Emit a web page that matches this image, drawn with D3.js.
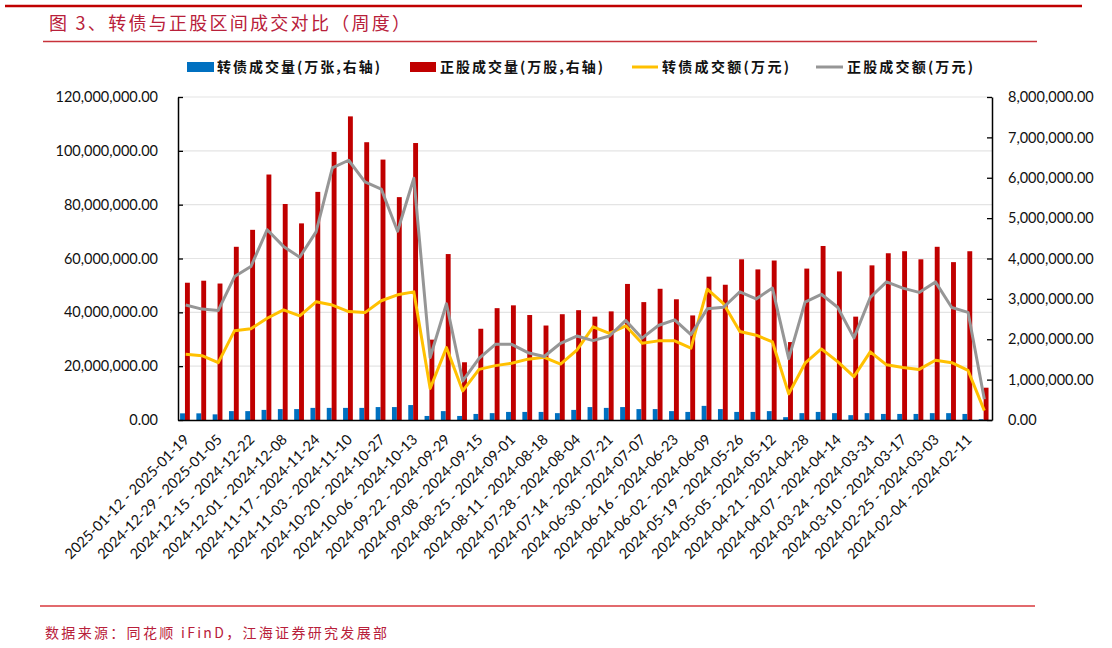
<!DOCTYPE html>
<html><head><meta charset="utf-8">
<script src="https://cdn.jsdelivr.net/npm/d3@7"></script>
<style>body{margin:0;background:#fff}svg{display:block}</style>
</head><body>
<svg id="c" width="1112" height="648"></svg>
<script>
const categories = [
"2025-01-12 - 2025-01-19","2025-01-05 - 2025-01-12","2024-12-29 - 2025-01-05","2024-12-22 - 2024-12-29",
"2024-12-15 - 2024-12-22","2024-12-08 - 2024-12-15","2024-12-01 - 2024-12-08","2024-11-24 - 2024-12-01",
"2024-11-17 - 2024-11-24","2024-11-10 - 2024-11-17","2024-11-03 - 2024-11-10","2024-10-27 - 2024-11-03",
"2024-10-20 - 2024-10-27","2024-10-13 - 2024-10-20","2024-10-06 - 2024-10-13","2024-09-29 - 2024-10-06",
"2024-09-22 - 2024-09-29","2024-09-15 - 2024-09-22","2024-09-08 - 2024-09-15","2024-09-01 - 2024-09-08",
"2024-08-25 - 2024-09-01","2024-08-18 - 2024-08-25","2024-08-11 - 2024-08-18","2024-08-04 - 2024-08-11",
"2024-07-28 - 2024-08-04","2024-07-21 - 2024-07-28","2024-07-14 - 2024-07-21","2024-07-07 - 2024-07-14",
"2024-06-30 - 2024-07-07","2024-06-23 - 2024-06-30","2024-06-16 - 2024-06-23","2024-06-09 - 2024-06-16",
"2024-06-02 - 2024-06-09","2024-05-26 - 2024-06-02","2024-05-19 - 2024-05-26","2024-05-12 - 2024-05-19",
"2024-05-05 - 2024-05-12","2024-04-28 - 2024-05-05","2024-04-21 - 2024-04-28","2024-04-14 - 2024-04-21",
"2024-04-07 - 2024-04-14","2024-03-31 - 2024-04-07","2024-03-24 - 2024-03-31","2024-03-17 - 2024-03-24",
"2024-03-10 - 2024-03-17","2024-03-03 - 2024-03-10","2024-02-25 - 2024-03-03","2024-02-18 - 2024-02-25",
"2024-02-04 - 2024-02-11","2024-01-28 - 2024-02-04"];

// 转债成交量(万张, 右轴)
const cbVolume = [165000,165000,140000,220000,220000,250000,270000,270000,300000,300000,300000,300000,320000,320000,370000,100000,220000,100000,150000,170000,200000,200000,200000,170000,250000,320000,300000,320000,270000,270000,220000,200000,350000,270000,200000,200000,220000,70000,170000,200000,170000,120000,170000,150000,150000,150000,170000,170000,150000,20000];
// 正股成交量(万股, 右轴)
const stockVolume = [3400000,3450000,3380000,4290000,4710000,6080000,5350000,4870000,5650000,6640000,7520000,6880000,6450000,5520000,6860000,1990000,4110000,1430000,2260000,2770000,2840000,2600000,2340000,2620000,2720000,2560000,2690000,3370000,2920000,3250000,2990000,2590000,3550000,3350000,3980000,3730000,3950000,1930000,3750000,4310000,3680000,2560000,3830000,4130000,4180000,3980000,4290000,3910000,4180000,800000];
// 转债成交额(万元, 左轴)
const cbAmount = [24400000,23900000,21300000,33200000,33900000,37800000,40900000,38700000,43900000,42700000,40300000,39900000,44300000,46500000,47600000,11700000,26900000,10800000,18800000,20200000,21100000,22600000,23300000,20800000,26000000,34600000,32200000,35000000,28500000,29400000,29400000,26700000,48600000,43200000,32900000,31500000,29000000,9700000,21100000,26400000,21700000,16100000,25300000,20500000,19500000,18800000,22200000,21300000,18400000,3500000];
// 正股成交额(万元, 左轴)
const stockAmount = [42700000,41200000,40700000,53300000,57000000,70700000,64500000,60500000,69900000,93700000,96500000,88500000,85800000,70100000,89800000,23200000,43200000,14500000,22900000,28100000,28100000,25000000,23600000,28500000,31200000,29500000,31200000,37000000,30400000,35100000,37200000,31700000,41300000,41900000,47600000,45000000,49000000,22800000,43800000,46700000,41900000,30500000,45500000,51300000,49000000,47400000,51300000,41800000,40000000,7700000];

const leftTicks = [0,20000000,40000000,60000000,80000000,100000000,120000000];
const rightTicks = [0,1000000,2000000,3000000,4000000,5000000,6000000,7000000,8000000];
const legendLabels = ["转债成交量(万张,右轴)","正股成交量(万股,右轴)","转债成交额(万元)","正股成交额(万元)"];
const titleText = "图 3、转债与正股区间成交对比（周度）";
const sourceText = "数据来源：同花顺 iFinD，江海证券研究发展部";

const svg = d3.select("#c");
const L = 178, R = 992, T = 97, B = 420;
const C = {blue:"#0070C0", red:"#C00000", yellow:"#FFC000", gray:"#969696", crimson:"#B8203A"};
const cjk = "'Noto Sans CJK SC','Noto Sans',sans-serif";
const num = "Lato,'Open Sans',sans-serif";

// header / footer
svg.append("line").attr("x1",5).attr("x2",1082).attr("y1",6).attr("y2",6).attr("stroke","#C00000").attr("stroke-width",2.5);
svg.append("text").attr("x",49).attr("y",30).text(titleText)
  .attr("font-family",cjk).attr("font-size",18).attr("fill",C.crimson)
  .attr("textLength",361).attr("lengthAdjust","spacing");
svg.append("line").attr("x1",43).attr("x2",1037).attr("y1",41.5).attr("y2",41.5).attr("stroke","#C8323A").attr("stroke-width",1.3);
svg.append("line").attr("x1",40).attr("x2",1035).attr("y1",606).attr("y2",606).attr("stroke","#D8383C").attr("stroke-width",1.3);
svg.append("text").attr("x",45).attr("y",638).text(sourceText)
  .attr("font-family",cjk).attr("font-size",14).attr("fill",C.crimson)
  .attr("textLength",342).attr("lengthAdjust","spacing");

// scales
const x = d3.scaleBand().domain(categories).range([L,R]).paddingInner(0.4).paddingOuter(0.17);
const yL = d3.scaleLinear().domain([0,120000000]).range([B,T]);
const yR = d3.scaleLinear().domain([0,8000000]).range([B,T]);
const bw = x.bandwidth()/2;
const cx = d => x(d) + x.bandwidth()/2;

// gridlines
svg.append("g").selectAll("line").data(leftTicks.slice(1)).join("line")
  .attr("x1",L).attr("x2",R).attr("y1",d=>yL(d)).attr("y2",d=>yL(d))
  .attr("stroke","#E4E4E4").attr("stroke-width",1.2);

// bars
svg.append("g").selectAll("rect").data(categories).join("rect")
  .attr("x",d=>x(d)-0.7).attr("width",bw)
  .attr("y",(d,i)=>yR(cbVolume[i])).attr("height",(d,i)=>B-yR(cbVolume[i]))
  .attr("fill",C.blue);
svg.append("g").selectAll("rect").data(categories).join("rect")
  .attr("x",d=>x(d)+bw-0.7).attr("width",bw)
  .attr("y",(d,i)=>yR(stockVolume[i])).attr("height",(d,i)=>B-yR(stockVolume[i]))
  .attr("fill",C.red);

// lines
const line = arr => d3.line().x((d,i)=>cx(categories[i])).y(d=>yL(d))(arr);
svg.append("path").attr("d",line(cbAmount)).attr("fill","none").attr("stroke",C.yellow).attr("stroke-width",3).attr("stroke-linejoin","round");
svg.append("path").attr("d",line(stockAmount)).attr("fill","none").attr("stroke",C.gray).attr("stroke-width",3).attr("stroke-linejoin","round");

// axes
const fmt = d3.format(",.2f");
const gl = svg.append("g").attr("transform",`translate(${L},0)`)
  .call(d3.axisLeft(yL).tickValues(leftTicks).tickFormat(fmt).tickSizeInner(-5).tickSizeOuter(0).tickPadding(20));
const gr = svg.append("g").attr("transform",`translate(${R},0)`)
  .call(d3.axisRight(yR).tickValues(rightTicks).tickFormat(fmt).tickSizeInner(-5).tickSizeOuter(0).tickPadding(16));
[gl,gr].forEach(g=>{
  g.select(".domain").attr("stroke","#000").attr("stroke-width",1.5);
  g.selectAll(".tick line").attr("stroke","#000").attr("stroke-width",1.3);
  g.selectAll(".tick text").attr("font-family",num).attr("font-size",14.5).attr("fill","#111");
});
const gx = svg.append("g").attr("transform",`translate(0,${B})`)
  .call(d3.axisBottom(x).tickValues(categories.filter((d,i)=>i%2===0)).tickSize(0).tickPadding(0));
gx.select(".domain").attr("stroke","#000").attr("stroke-width",1.5);
gx.selectAll(".tick text")
  .attr("font-family",num).attr("font-size",14.5).attr("fill","#111")
  .attr("text-anchor","end").attr("dy","0.35em")
  .attr("transform","translate(1,17) rotate(-45)");

// legend
const lg = svg.append("g").attr("font-family",cjk).attr("font-size",14).attr("font-weight","bold").attr("fill","#111");
lg.append("rect").attr("x",187).attr("y",62).attr("width",27).attr("height",10).attr("fill",C.blue);
lg.append("text").attr("x",217).attr("y",72).text(legendLabels[0]).attr("textLength",163).attr("lengthAdjust","spacing");
lg.append("rect").attr("x",410).attr("y",62).attr("width",26).attr("height",10).attr("fill",C.red);
lg.append("text").attr("x",440).attr("y",72).text(legendLabels[1]).attr("textLength",163).attr("lengthAdjust","spacing");
lg.append("line").attr("x1",632).attr("x2",658).attr("y1",67).attr("y2",67).attr("stroke",C.yellow).attr("stroke-width",3);
lg.append("text").attr("x",662).attr("y",72).text(legendLabels[2]).attr("textLength",127).attr("lengthAdjust","spacing");
lg.append("line").attr("x1",816).attr("x2",843).attr("y1",67).attr("y2",67).attr("stroke",C.gray).attr("stroke-width",3);
lg.append("text").attr("x",847).attr("y",72).text(legendLabels[3]).attr("textLength",126).attr("lengthAdjust","spacing");
</script>
</body></html>
